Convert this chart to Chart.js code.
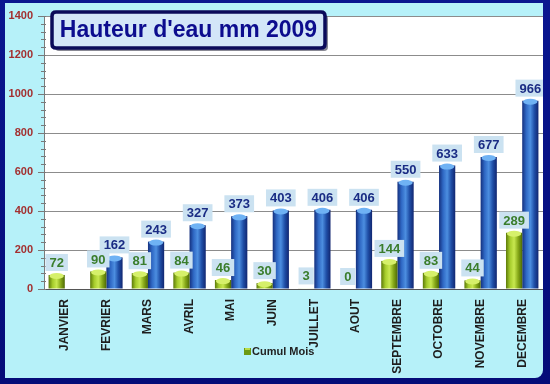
<!DOCTYPE html>
<html>
<head>
<meta charset="utf-8">
<script src="https://cdn.jsdelivr.net/npm/chart.js@4.4.1/dist/chart.umd.min.js"></script>
<style>
  html, body { margin: 0; padding: 0; }
  #frame { position: relative; width: 550px; height: 384px; background: linear-gradient(#0a1690, #050c78); overflow: hidden; }
  #inner { position: absolute; left: 5px; top: 3px; width: 538px; height: 375px; background: #b6f1f9; border-radius: 0 0 8px 0; }
  canvas { display: block; }
</style>
</head>
<body>
<div id="frame"><div id="inner"><canvas id="rainChart" width="538" height="375"></canvas></div></div>
<script>
// Hauteur d'eau 2009 - monthly and cumulated rainfall (mm)

const months = ['JANVIER', 'FEVRIER', 'MARS', 'AVRIL', 'MAI', 'JUIN', 'JUILLET', 'AOUT', 'SEPTEMBRE', 'OCTOBRE', 'NOVEMBRE', 'DECEMBRE'];
const monthValues = [72, 90, 81, 84, 46, 30, 3, 0, 144, 83, 44, 289];
const cumulValues = [null, 162, 243, 327, 373, 403, 406, 406, 550, 633, 677, 966];
const yMin = 0, yMax = 1400, yStep = 200;
const titleText = "Hauteur d'eau mm 2009";
const legendText = 'Cumul Mois';

const CAT_PCT = 0.78;
const greenStops = ['#5c7a08', '#a6cc2c', '#c8e850', '#86a818', '#4e6a04'];
const blueStops = ['#14307e', '#2f68c4', '#4c8ee0', '#1f4ea6', '#112670'];

function barGradient(context, stops, side) {
    const chart = context.chart;
    const xs = chart.scales.x;
    if (!xs || !chart.chartArea) return stops[2];
    const c = xs.getPixelForValue(context.dataIndex);
    const w = xs.width / months.length * CAT_PCT / 2;
    const x0 = side === 0 ? c - w : c;
    const g = chart.ctx.createLinearGradient(x0, 0, x0 + w, 0);
    stops.forEach((s, i) => g.addColorStop(i / (stops.length - 1), s));
    return g;
}

function roundRect(ctx, x, y, w, h, r) {
    ctx.beginPath();
    ctx.moveTo(x + r, y);
    ctx.lineTo(x + w - r, y);
    ctx.quadraticCurveTo(x + w, y, x + w, y + r);
    ctx.lineTo(x + w, y + h - r);
    ctx.quadraticCurveTo(x + w, y + h, x + w - r, y + h);
    ctx.lineTo(x + r, y + h);
    ctx.quadraticCurveTo(x, y + h, x, y + h - r);
    ctx.lineTo(x, y + r);
    ctx.quadraticCurveTo(x, y, x + r, y);
    ctx.closePath();
}

const decorPlugin = {
    id: 'decor',
    beforeDraw(chart) {
        const { ctx, chartArea: a } = chart;
        ctx.save();
        ctx.fillStyle = '#ffffff';
        ctx.fillRect(a.left, a.top, a.right - a.left, a.bottom - a.top);
        ctx.restore();
    },
    afterDatasetsDraw(chart) {
        const ctx = chart.ctx;
        const ys = chart.scales.y;
        // minor ticks on the y axis
        ctx.save();
        ctx.strokeStyle = '#7a7a7a';
        ctx.lineWidth = 1;
        for (let v = yMin; v <= yMax; v += yStep / 5) {
            const py = Math.round(ys.getPixelForValue(v)) + 0.5;
            ctx.beginPath();
            ctx.moveTo(ys.right - 3, py);
            ctx.lineTo(ys.right + 2, py);
            ctx.stroke();
        }
        ctx.restore();

        // cylinder caps
        const caps = ['#d6f06a', '#6fb2f4'];
        chart.data.datasets.forEach((ds, di) => {
            chart.getDatasetMeta(di).data.forEach((bar, i) => {
                if (ds.data[i] == null || ds.data[i] < 10) return;
                const w = bar.width;
                ctx.save();
                ctx.fillStyle = caps[di];
                ctx.beginPath();
                ctx.ellipse(bar.x, bar.y + 1, w / 2 - 1, 3, 0, 0, Math.PI * 2);
                ctx.fill();
                ctx.restore();
            });
        });

        // value labels in light boxes
        const textColors = ['#3a7d2c', '#1a2c84'];
        ctx.save();
        ctx.font = 'bold 13px Arial, "Liberation Sans", sans-serif';
        ctx.textAlign = 'center';
        ctx.textBaseline = 'middle';
        chart.data.datasets.forEach((ds, di) => {
            chart.getDatasetMeta(di).data.forEach((bar, i) => {
                const v = ds.data[i];
                if (v == null) return;
                const txt = String(v);
                const tw = ctx.measureText(txt).width + 8;
                const bh = 17;
                const by = bar.y - 4 - bh;
                ctx.fillStyle = '#cbe2f1';
                ctx.fillRect(bar.x - tw / 2, by, tw, bh);
                ctx.fillStyle = textColors[di];
                ctx.fillText(txt, bar.x, by + bh / 2 + 1);
            });
        });
        ctx.restore();
    },
    afterDraw(chart) {
        const ctx = chart.ctx;
        // title box
        const tx = 47, ty = 9, tw = 273, th = 36;
        ctx.save();
        ctx.fillStyle = 'rgba(40,40,60,0.55)';
        roundRect(ctx, tx + 3, ty + 3, tw, th, 4);
        ctx.fill();
        ctx.fillStyle = '#d3e6f8';
        ctx.strokeStyle = '#0a0a5a';
        ctx.lineWidth = 3.5;
        roundRect(ctx, tx, ty, tw, th, 4);
        ctx.fill();
        ctx.stroke();
        ctx.fillStyle = '#0c0c8e';
        ctx.font = 'bold 23px Arial, "Liberation Sans", sans-serif';
        ctx.textAlign = 'center';
        ctx.textBaseline = 'middle';
        ctx.fillText(titleText, tx + tw / 2, ty + th / 2 + 1);
        ctx.restore();

        // legend
        ctx.save();
        ctx.fillStyle = '#6c9a14';
        ctx.fillRect(239, 345, 7, 7);
        ctx.fillStyle = '#b8dc48';
        ctx.fillRect(240, 345, 5, 2);
        ctx.fillStyle = '#222222';
        ctx.font = 'bold 11px Arial, "Liberation Sans", sans-serif';
        ctx.textAlign = 'left';
        ctx.textBaseline = 'middle';
        ctx.fillText(legendText, 247, 349);
        ctx.restore();
    }
};

new Chart(document.getElementById('rainChart').getContext('2d'), {
    type: 'bar',
    data: {
        labels: months,
        datasets: [{
            label: 'Mois',
            data: monthValues,
            backgroundColor: ctx => barGradient(ctx, greenStops, 0),
            borderWidth: 0,
            barPercentage: 1,
            categoryPercentage: CAT_PCT
        }, {
            label: 'Cumul',
            data: cumulValues,
            backgroundColor: ctx => barGradient(ctx, blueStops, 1),
            borderWidth: 0,
            barPercentage: 1,
            categoryPercentage: CAT_PCT
        }]
    },
    options: {
        responsive: false,
        animation: false,
        layout: { padding: { top: 13, right: 0, left: 0, bottom: 0 } },
        plugins: {
            legend: { display: false },
            title: { display: false },
            tooltip: { enabled: false }
        },
        scales: {
            x: {
                grid: { display: false },
                border: { display: true, color: '#555555' },
                ticks: {
                    maxRotation: 90,
                    minRotation: 90,
                    color: '#1e1e1e',
                    padding: 2,
                    font: { family: 'Arial, "Liberation Sans", sans-serif', size: 12, weight: 'bold' }
                },
                afterFit: s => { s.height = 89; }
            },
            y: {
                min: yMin,
                max: yMax,
                ticks: {
                    stepSize: yStep,
                    color: '#a33030',
                    padding: 5,
                    callback: v => String(v),
                    font: { family: 'Arial, "Liberation Sans", sans-serif', size: 11, weight: 'bold' }
                },
                grid: { color: '#8c8c8c', tickLength: 6, tickColor: '#7a7a7a' },
                border: { color: '#7a7a7a' },
                afterFit: s => { s.width = 39; }
            }
        }
    },
    plugins: [decorPlugin]
});
</script>
</body>
</html>
